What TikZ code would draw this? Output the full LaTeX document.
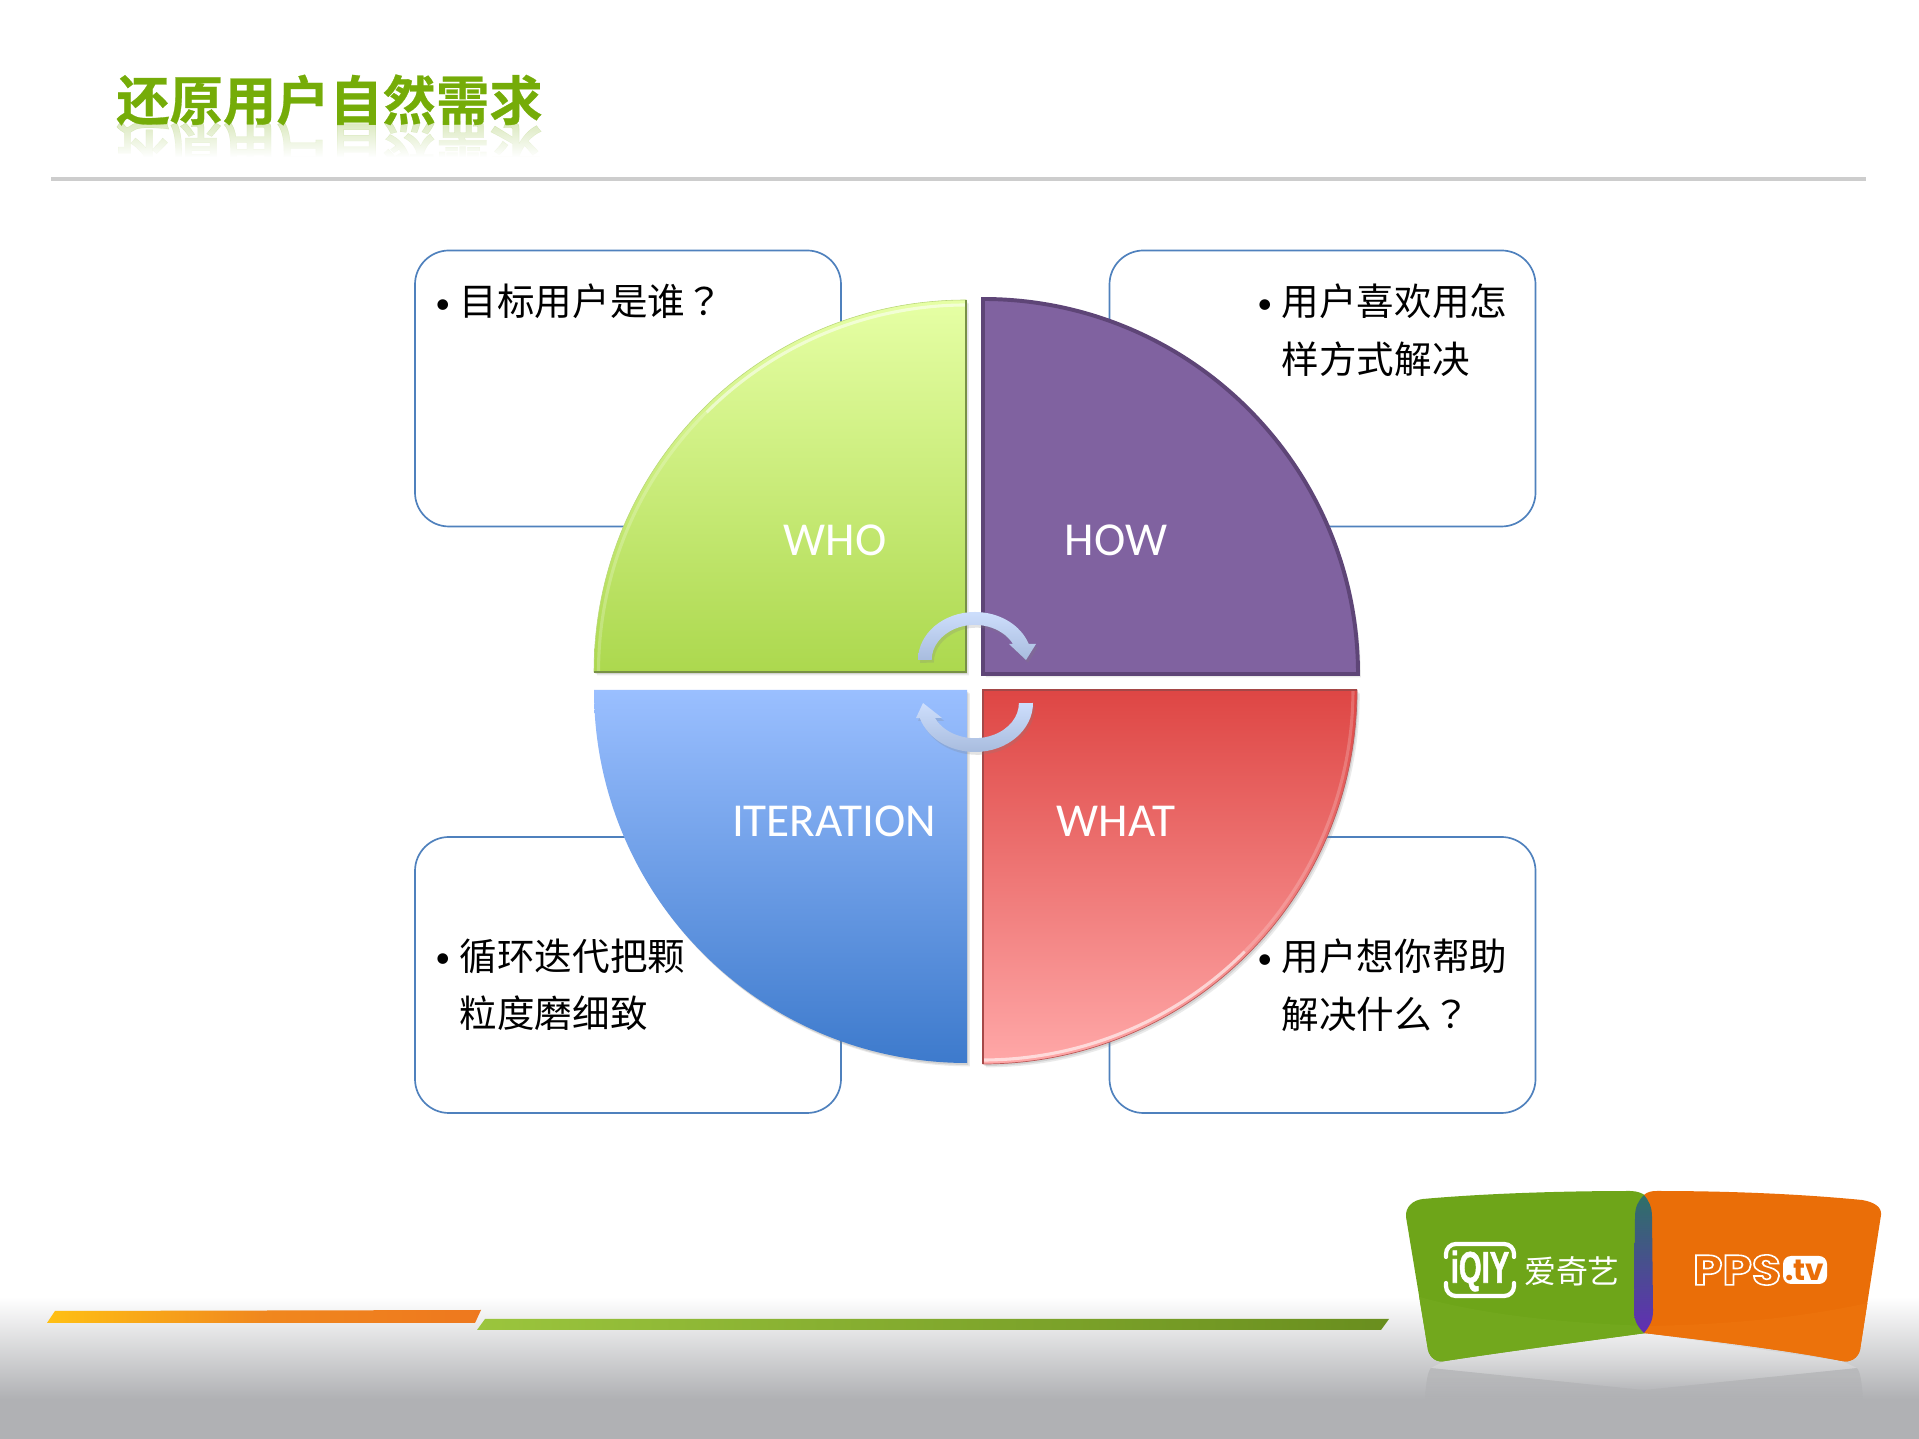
\documentclass[tikz,border=0pt]{standalone}
\usepackage{fontspec}
\setmainfont{Carlito}
\newfontfamily\cjk{Noto Sans CJK SC}
\newfontfamily\cjkmark{Noto Sans CJK TC}
\newfontfamily\cjkbold[FakeBold=0.5]{Noto Sans CJK SC Bold}
\newfontfamily\logofont{Poppins}
\newfontfamily\slabfont[FakeBold=1.5]{Liberation Sans Bold}
\usetikzlibrary{shadows,fadings}
\newcommand{\bulletrow}[1]{\makebox[17.5pt][l]{\raisebox{2pt}{\scalebox{.8}{\textbullet}}}{\cjk #1}}
\newcommand{\plainrow}[1]{\hspace*{17.5pt}{\cjk #1}}
\newcommand{\greenpath}{(1406,222) .. controls (1405,232) and (1413,239) .. (1423,240) .. controls (1490,246) and (1570,248) .. (1630,248) .. controls (1637,248) and (1642,246) .. (1646,243) -- (1646,106) .. controls (1580,97) and (1510,88) .. (1445,78) .. controls (1437,76) and (1430,81) .. (1428,89) -- cycle}
\newcommand{\orangepath}{(1644,244) .. controls (1647,247) and (1651,248) .. (1657,248) .. controls (1730,248) and (1800,245) .. (1862,239) .. controls (1874,237) and (1882,232) .. (1881,224) -- (1860,89) .. controls (1858,81) and (1850,76) .. (1842,78) .. controls (1780,90) and (1710,98) .. (1644,106) -- cycle}
\begin{document}
\begin{tikzpicture}
		[x=0.25mm,y=0.25mm,
		titlestyle/.style={inner sep=0pt,text=titlegreen,font=\cjkbold\fontsize{37.9}{40}\selectfont},
		askbox/.style={draw=boxblue,line width=1.2pt,rounded corners=8.5mm,minimum width=106.5mm,minimum height=69mm,inner sep=0pt},
		asktext/.style={anchor=north west,inner sep=0pt,align=left,text=black,font=\fontsize{26.7}{40.6}\selectfont},
		quarter/.style={drop shadow={shadow xshift=2pt,shadow yshift=-2.4pt,opacity=.16},drop shadow={shadow xshift=1pt,shadow yshift=-1.4pt,opacity=.22}},
		wordstyle/.style={inner sep=0pt,text=white,font=\fontsize{33.6}{36}\selectfont},
		turnarrow/.style={top color=arrowtop,bottom color=arrowbottom,drop shadow={shadow xshift=1.5pt,shadow yshift=-2pt,opacity=.22}},
		logotext/.style={inner sep=0pt,text=white}]
		\definecolor{titlegreen}{RGB}{117,172,8}
		\definecolor{boxblue}{RGB}{79,129,189}
		\definecolor{arrowtop}{RGB}{205,222,252}
		\definecolor{arrowbottom}{RGB}{168,188,222}
		\definecolor{logogreen}{RGB}{110,165,25}
		\definecolor{logoorange}{RGB}{234,110,8}
		\definecolor{footgray}{RGB}{176,177,180}
		\useasboundingbox (0,0) rectangle (1919,1439);
		\fill[white] (0,0) rectangle (1919,1439);
		\fill[footgray] (0,0) rectangle (1919,40.5);
		\shade[top color=white,bottom color=footgray] (0,40) rectangle (1919,142);
		\shade[left color={rgb,255:red,255;green,192;blue,20},right color={rgb,255:red,238;green,120;blue,30},middle color={rgb,255:red,240;green,135;blue,30}] (47,116) -- (55,128) -- (481,129) -- (475,116) -- cycle;
		\shade[left color={rgb,255:red,155;green,197;blue,61},right color={rgb,255:red,105;green,142;blue,30}] (477,109) -- (485,120) -- (1389,120) -- (1381,109) -- cycle;
		\node at (329.5,1339) (title) [titlestyle] {还原用户自然需求};
		\node at (329.5,1293) (titleflip) [titlestyle,opacity=.25] {\scalebox{1}[-1]{还原用户自然需求}};
		\fill[white,path fading=north] (100,1316) rectangle (560,1282);
		\fill[white] (100,1282) rectangle (560,1263);
		\draw[color={rgb,255:red,205;green,205;blue,205},line width=2.4pt] (51,1260) -- (1866,1260);
		\node at (628,1050.5) (whobox) [askbox] {};
		\node at (1322.5,1050.5) (howbox) [askbox] {};
		\node at (628,464) (iterationbox) [askbox] {};
		\node at (1322.5,464) (whatbox) [askbox] {};
		\node at (435,1155) (whoask) [asktext] {\bulletrow{目标用户是谁{\cjkmark ？}}};
		\node at (1257,1155) (howask) [asktext] {\bulletrow{用户喜欢用怎}\\\plainrow{样方式解决}};
		\node at (435,500) (iterationask) [asktext] {\bulletrow{循环迭代把颗}\\\plainrow{粒度磨细致}};
		\node at (1257,500) (whatask) [asktext] {\bulletrow{用户想你帮助}\\\plainrow{解决什么{\cjkmark ？}}};
		\shade[quarter,top color={rgb,255:red,230;green,255;blue,165},middle color={rgb,255:red,210;green,245;blue,130},bottom color={rgb,255:red,172;green,216;blue,78},draw={rgb,255:red,185;green,215;blue,120},line width=.4pt]
			(966,767) -- (594,767) arc [start angle=180,end angle=90,radius=372] -- cycle;
		\draw[white,opacity=.55,line width=2.2pt] (966,1134) arc [start angle=90,end angle=135,radius=367];
		\draw[white,opacity=.22,line width=2.2pt] (706,1026.5) arc [start angle=135,end angle=180,radius=367];
		\draw[color={rgb,255:red,120;green,145;blue,70},line width=2pt] (966,1139) -- (966,767) -- (594,767);
		\fill[quarter,fill={rgb,255:red,128;green,98;blue,160},draw={rgb,255:red,94;green,69;blue,119},line width=2.8pt]
			(983,765) -- (1358,765) arc [start angle=0,end angle=90,radius=375] -- cycle;
		\shade[quarter,top color={rgb,255:red,154;green,191;blue,255},bottom color={rgb,255:red,61;green,122;blue,204}]
			(967,749) -- (594,749) arc [start angle=180,end angle=270,radius=373] -- cycle;
		\shade[quarter,top color={rgb,255:red,222;green,70;blue,68},middle color={rgb,255:red,242;green,122;blue,122},bottom color={rgb,255:red,255;green,168;blue,168},draw={rgb,255:red,190;green,90;blue,90},line width=.5pt]
			(983,749) -- (1357,749) arc [start angle=0,end angle=-90,radius=374] -- cycle;
		\draw[white,opacity=.6,line width=2.2pt] (983,379) arc [start angle=-90,end angle=-45,radius=370];
		\draw[white,opacity=.2,line width=2.2pt] (1244.6,487.4) arc [start angle=-45,end angle=0,radius=370];
		\draw[color={rgb,255:red,165;green,72;blue,72},line width=2pt] (983,375) -- (983,749) -- (1357,749);
		\node at (835,899) (who) [wordstyle] {WHO};
		\node at (1116,899) (how) [wordstyle] {HOW};
		\node at (834,618) (iteration) [wordstyle] {ITERATION};
		\node at (1116,618) (what) [wordstyle] {WHAT};
		\shade[turnarrow] (918,779) arc [start angle=180,end angle=19.5,x radius=57,y radius=48] -- (1036,795) -- (1026,779) -- (1009,795) -- (1013,795) arc [start angle=27,end angle=180,x radius=43,y radius=35] -- cycle;
		\shade[turnarrow] (1033,736) arc [start angle=0,end angle=-162,x radius=58,y radius=49] -- (916,721) -- (923,736) -- (942,721) -- (935,721) arc [start angle=-155,end angle=0,x radius=44,y radius=35] -- cycle;
		\fill[white,opacity=.4,path fading=south] (1445,78) -- (1644,106) -- (1842,78) -- (1857,71) -- (1644,49) -- (1431,71) -- cycle;
		\fill[black,opacity=.07,path fading=south] (1425,40) .. controls (1426,58) and (1428,68) .. (1431,71) -- (1644,49) -- (1857,71) .. controls (1860,68) and (1862,58) .. (1863,40) -- cycle;
		\fill[logogreen] \greenpath;
		\begin{scope}
			\clip \greenpath;
			\fill[color={rgb,255:red,114;green,168;blue,29}] (1400,148) .. controls (1470,125) and (1560,116) .. (1650,113) -- (1650,60) -- (1400,60) -- cycle;
		\end{scope}
		\fill[logoorange] \orangepath;
		\begin{scope}
			\clip \orangepath;
			\fill[color={rgb,255:red,236;green,114;blue,11}] (1640,113) .. controls (1730,114) and (1810,122) .. (1885,140) -- (1885,60) -- (1640,60) -- cycle;
		\end{scope}
		\shade[top color={rgb,255:red,46;green,112;blue,104},bottom color={rgb,255:red,98;green,46;blue,180}] (1644,244) .. controls (1638,238) and (1635,232) .. (1635,222) -- (1634,128) .. controls (1634,118) and (1638,112) .. (1644,106) .. controls (1649,112) and (1653,118) .. (1653,128) -- (1652,222) .. controls (1652,232) and (1649,238) .. (1644,244) -- cycle;
		\draw[white,line width=3pt,line cap=round,rounded corners=7pt] (1446,182) -- (1446,195) -- (1514,195) -- (1514,182);
		\draw[white,line width=3pt,line cap=round,rounded corners=7pt] (1446,156) -- (1446,143) -- (1514,143) -- (1514,156);
		\node at (1480,168) (iqiy) [logotext,font=\slabfont\fontsize{31.5}{33}\selectfont] {\scalebox{.66}[1]{iQIY}};
		\node at (1572,168) (aiqiyi) [logotext,font=\cjk\fontsize{22.7}{24}\selectfont] {爱奇艺};
		\node at (1737,169) (pps) [logotext,font=\logofont\bfseries\fontsize{30}{32}\selectfont] {\scalebox{1.12}[1]{\special{pdf:code 1 Tr 1.1 w 1 1 1 RG}PPS\special{pdf:code 0 Tr}}};
		\node at (1805,169) (tv) [fill=white,rounded corners=2mm,inner sep=0pt,minimum width=11mm,minimum height=7mm,text=logoorange,font=\logofont\bfseries\fontsize{21}{22}\selectfont] {.tv};
	\end{tikzpicture}
\end{document}
